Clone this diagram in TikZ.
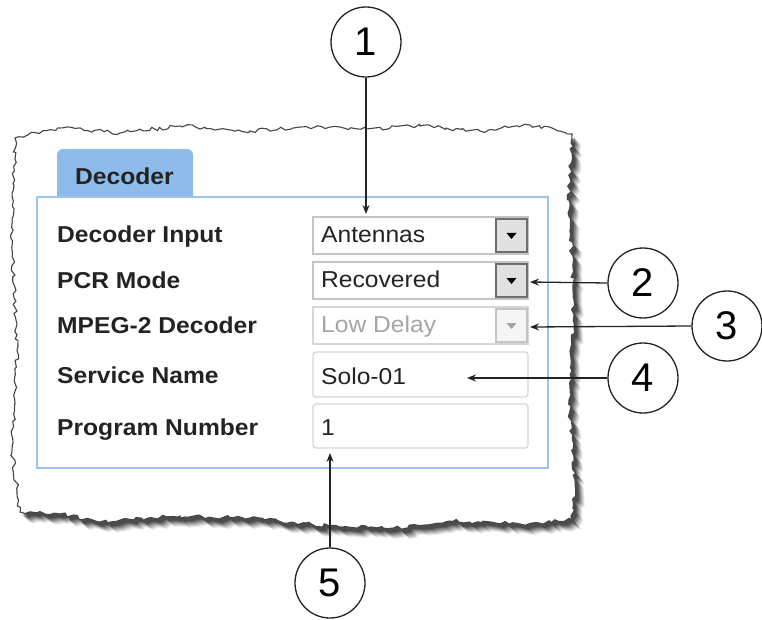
\documentclass[tikz,border=0pt]{standalone}
\usepackage{fontspec}
\setmainfont{Liberation Sans}
\newfontfamily\widefont{Liberation Sans}[FakeStretch=1.07]
\usetikzlibrary{decorations.pathmorphing,arrows.meta}
\definecolor{tabblue}{RGB}{141,187,234}
\definecolor{panelblue}{RGB}{158,195,238}
\definecolor{boxgray}{RGB}{196,196,196}
\definecolor{btngray}{RGB}{110,110,110}
\definecolor{inkgray}{RGB}{35,35,35}
\definecolor{dimgray}{RGB}{165,165,165}
\begin{document}
\begin{tikzpicture}[x=1pt,y=-1pt,
  framepath/.style={insert path={(15,138) -- (60,128) -- (120,133) -- (180,126) -- (250,131) -- (300,127) -- (366,129) -- (420,126) -- (480,131) -- (530,125) -- (560,131) -- (572,134) -- (569,200) -- (574,300) -- (569,400) -- (575,480) -- (572,520) -- (520,524) -- (450,521) -- (400,528) -- (330,526) -- (250,518) -- (180,516) -- (100,522) -- (60,514) -- (20,512) -- (12,450) -- (17,350) -- (12,250) -- cycle}},
  torn/.style={decorate, decoration={random steps, segment length=4pt, amplitude=2pt}},
  lbl/.style={anchor=base west, inner sep=0pt, text=inkgray, font=\widefont\bfseries\fontsize{23}{23}\selectfont},
  val/.style={anchor=base west, inner sep=0pt, text=inkgray, font=\widefont\fontsize{23}{23}\selectfont},
  field/.style={draw=boxgray, line width=1.2pt, fill=white},
  btn/.style={draw=btngray, line width=1.6pt, fill=black!12, minimum width=31pt, minimum height=33pt, inner sep=0pt},
  callout/.style={circle, draw=inkgray, line width=1.3pt, fill=white, minimum size=70pt, inner sep=0pt, font=\fontsize{40}{40}\selectfont},
  ptr/.style={draw=inkgray, line width=1.3pt, -{Stealth[length=9pt,width=7pt]}}
]
\useasboundingbox (0,0) rectangle (762,620);

% torn paper shadow
\foreach \d/\o in {9/0.08,8/0.10,7/0.12,6/0.15,5/0.18,4/0.22,3/0.25}{
  \begin{scope}[shift={(\d,\d+1)}]
    \pgfmathsetseed{7}
    \fill[black, opacity=\o, torn, framepath];
  \end{scope}
}
% torn paper
\pgfmathsetseed{7}
\path[fill=white, draw=inkgray!85, line width=1.1pt, torn, framepath];

% tab and panel
\fill[tabblue, rounded corners=6pt] (57,149) rectangle (193,215);
\path[fill=white, draw=panelblue, line width=2.8pt] (37,197) rectangle (548,468);
\node[inner sep=0pt, anchor=base west, text=inkgray, font=\widefont\bfseries\fontsize{23}{23}\selectfont] (tab) at (75,185) {Decoder};

% labels
\node[lbl] (l1) at (57,243) {Decoder Input};
\node[lbl] (l2) at (57,288) {PCR Mode};
\node[lbl] (l3) at (57,333) {MPEG-2 Decoder};
\node[lbl] (l4) at (57,383) {Service Name};
\node[lbl] (l5) at (57,435) {Program Number};

% fields
\path[field] (313,217) rectangle (528,254);
\path[field] (313,262) rectangle (528,299);
\path[field, draw=boxgray!70] (313,307) rectangle (528,344);
\path[field, draw=boxgray!70, rounded corners=3pt] (313,352) rectangle (528,397);
\path[field, draw=boxgray!70, rounded corners=3pt] (313,404) rectangle (528,448);

\node[val] (v1) at (321,242) {Antennas};
\node[val] (v2) at (321,287) {Recovered};
\node[val, text=dimgray] (v3) at (321,332) {Low Delay};
\node[val] (v4) at (321,384) {Solo-01};
\node[val] (v5) at (321,435) {1};

% dropdown buttons
\node[btn] (b1) at (511.5,235.5) {};
\node[btn] (b2) at (511.5,280.5) {};
\node[btn, draw=boxgray, fill=black!4] (b3) at (511.5,325.5) {};
\fill[black] (506.5,233) -- (516.5,233) -- (511.5,239) -- cycle;
\fill[black] (506.5,278) -- (516.5,278) -- (511.5,284) -- cycle;
\fill[dimgray] (506.5,323) -- (516.5,323) -- (511.5,329) -- cycle;

% arrow targets
\coordinate (t1) at (366,214);
\coordinate (t2) at (530,282);
\coordinate (t3) at (530,327);
\coordinate (t4) at (467,378);
\coordinate (t5) at (330,453);

% callouts
\node[callout] (c1) at (366,42) {1};
\node[callout] (c2) at (643,283) {2};
\node[callout] (c3) at (727,326) {3};
\node[callout] (c4) at (643,378) {4};
\node[callout] (c5) at (330,583) {5};

\draw[ptr] (c1.south) -- (t1);
\draw[ptr] (c2.west) -- (t2);
\draw[ptr] (c3.west) -- (t3);
\draw[ptr] (c4.west) -- (t4);
\draw[ptr] (c5.north) -- (t5);
\end{tikzpicture}
\end{document}
